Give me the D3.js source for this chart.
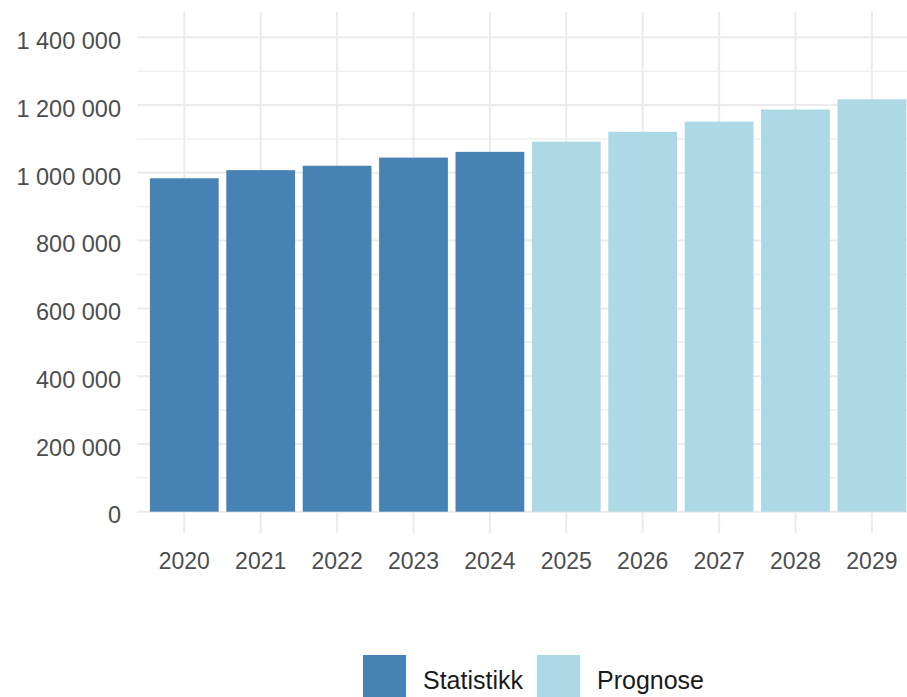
<!DOCTYPE html>
<html>
<head>
<meta charset="utf-8">
<script src="https://cdn.jsdelivr.net/npm/d3@7"></script>
<style>
  html, body { margin: 0; padding: 0; background: #ffffff; }
  svg { display: block; }
</style>
</head>
<body>
<div id="chart"></div>
<script>
// ---- data ----
const years = ["2020","2021","2022","2023","2024","2025","2026","2027","2028","2029"];
const values = [984000, 1008000, 1021000, 1045000, 1062000, 1092000, 1121000, 1151000, 1187000, 1217000];
const types = ["Statistikk","Statistikk","Statistikk","Statistikk","Statistikk","Prognose","Prognose","Prognose","Prognose","Prognose"];
const legendLabels = ["Statistikk", "Prognose"];
const majorTicks = [0, 200000, 400000, 600000, 800000, 1000000, 1200000, 1400000];
const minorTicks = [100000, 300000, 500000, 700000, 900000, 1100000, 1300000];

const W = 907, H = 697;
const colors = { "Statistikk": "#4682b4", "Prognose": "#add8e6" };

const svg = d3.select("#chart").append("svg").attr("width", W).attr("height", H);

const panelLeft = 137, panelTop = 12, panelRight = 920;

const y = d3.scaleLinear().domain([0, 1400000]).range([511.7, 37.3]);
const x = d3.scaleBand().domain(years).range([146.1, 910.1]).paddingInner(0.1).paddingOuter(0.05);

const fmt = v => d3.format(",")(v).replace(/,/g, " ");

// grid
const grid = svg.append("g");
grid.selectAll("line.minor").data(minorTicks).enter().append("line")
  .attr("x1", panelLeft).attr("x2", panelRight)
  .attr("y1", d => y(d)).attr("y2", d => y(d))
  .attr("stroke", "#efefef").attr("stroke-width", 1.6);
grid.selectAll("line.major").data(majorTicks).enter().append("line")
  .attr("x1", panelLeft).attr("x2", panelRight)
  .attr("y1", d => y(d)).attr("y2", d => y(d))
  .attr("stroke", "#ebebeb").attr("stroke-width", 2);
grid.selectAll("line.vert").data(years).enter().append("line")
  .attr("x1", d => x(d) + x.bandwidth() / 2).attr("x2", d => x(d) + x.bandwidth() / 2)
  .attr("y1", panelTop).attr("y2", 533)
  .attr("stroke", "#ebebeb").attr("stroke-width", 2);

// bars
svg.append("g").selectAll("rect").data(years).enter().append("rect")
  .attr("x", d => x(d))
  .attr("width", x.bandwidth())
  .attr("y", (d, i) => y(values[i]))
  .attr("height", (d, i) => y(0) - y(values[i]))
  .attr("fill", (d, i) => colors[types[i]]);

// y axis labels
const yAxis = d3.axisLeft(y).tickValues(majorTicks).tickFormat(fmt).tickSize(0).tickPadding(0);
const gy = svg.append("g").attr("transform", "translate(121,0)").call(yAxis);
gy.select(".domain").remove();
gy.selectAll("text")
  .attr("font-family", "Liberation Sans, Arial, sans-serif")
  .attr("font-size", 23.5)
  .attr("fill", "#4d4d4d")
  .attr("dy", "0.48em");

// x axis labels
const xAxis = d3.axisBottom(x).tickSize(0).tickPadding(0);
const gx = svg.append("g").attr("transform", "translate(0,553)").call(xAxis);
gx.select(".domain").remove();
gx.selectAll("text")
  .attr("font-family", "Liberation Sans, Arial, sans-serif")
  .attr("font-size", 23)
  .attr("fill", "#4d4d4d")
  .attr("dy", "0.71em");

// legend
const legX = [363, 537];
const leg = svg.append("g");
legendLabels.forEach((lab, i) => {
  leg.append("rect").attr("x", legX[i]).attr("y", 655).attr("width", 43).attr("height", 43)
    .attr("fill", colors[lab]);
  leg.append("text").attr("x", legX[i] + 60).attr("y", 689)
    .attr("font-family", "Liberation Sans, Arial, sans-serif")
    .attr("font-size", 25)
    .attr("fill", "#1a1a1a")
    .text(lab);
});
</script>
</body>
</html>
